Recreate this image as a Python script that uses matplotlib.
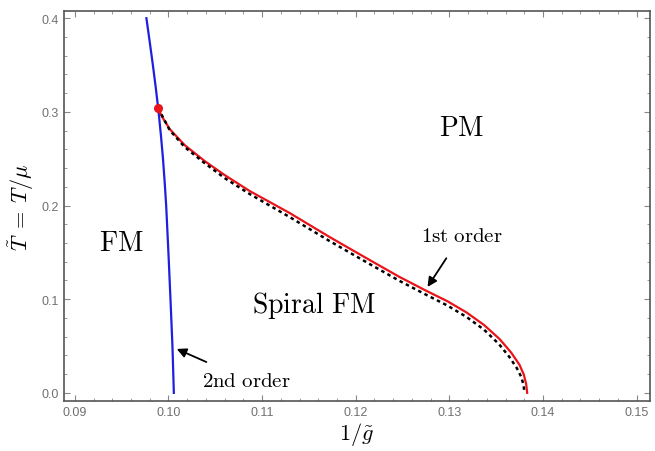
import numpy as np
import matplotlib
matplotlib.use("Agg")
import matplotlib.pyplot as plt

plt.rcParams["mathtext.fontset"] = "cm"

# second order line (blue)
blue_T = [0.40, 0.375, 0.35, 0.325, 0.30, 0.275, 0.25, 0.225, 0.20, 0.15, 0.10, 0.05, 0.0]
blue_x = [0.09765, 0.09800, 0.09834, 0.09866, 0.09895, 0.09920, 0.09942, 0.09960,
          0.09976, 0.10000, 0.10022, 0.10043, 0.10058]

# first order line (red)
red_x = [0.09891, 0.09928, 0.10014, 0.10174, 0.10387, 0.10601, 0.10868, 0.11295,
         0.11721, 0.12148, 0.12469, 0.12757, 0.12980, 0.13184, 0.13370, 0.13536,
         0.13660, 0.13749, 0.13795, 0.13820, 0.13831]
red_T = [0.3040, 0.2955, 0.2816, 0.2645, 0.2475, 0.2325, 0.2155, 0.1920,
         0.1664, 0.1419, 0.1237, 0.1088, 0.0978, 0.0858, 0.0725, 0.0575,
         0.0430, 0.0300, 0.0195, 0.0095, 0.0]

# dotted line (black)
dot_x = [0.09891, 0.09907, 0.10014, 0.10174, 0.10387, 0.10601, 0.10868, 0.11295,
         0.11721, 0.12148, 0.12469, 0.12757, 0.12980, 0.13184, 0.13370, 0.13530,
         0.13640, 0.13720, 0.13768, 0.13792, 0.13802]
dot_T = [0.3040, 0.3008, 0.2805, 0.2624, 0.2453, 0.2293, 0.2123, 0.1877,
         0.1621, 0.1376, 0.1195, 0.1045, 0.0932, 0.0810, 0.0675, 0.0520,
         0.0385, 0.0265, 0.0170, 0.0085, 0.0]

# tricritical point
tc_x, tc_T = 0.0989, 0.3043

fig = plt.figure(figsize=(6.55, 4.52), dpi=100)
ax = fig.add_axes([0.097, 0.111, 0.895, 0.862])

ax.plot(blue_x, blue_T, color="#1f1fe0", lw=1.6)
ax.plot(red_x, red_T, color="#e8141a", lw=1.6)
ax.plot(dot_x, dot_T, color="black", lw=1.8, ls=(0, (1.4, 1.4)))
ax.plot([tc_x], [tc_T], "o", color="#e8141a", ms=5.5)

ax.set_xlim(0.0888, 0.1514)
ax.set_ylim(-0.0085, 0.4075)
ax.set_xticks([0.09, 0.10, 0.11, 0.12, 0.13, 0.14, 0.15])
ax.set_yticks([0.0, 0.1, 0.2, 0.3, 0.4])
ax.set_xticklabels(["0.09", "0.10", "0.11", "0.12", "0.13", "0.14", "0.15"])
ax.set_yticklabels(["0.0", "0.1", "0.2", "0.3", "0.4"])
ax.set_xticks(np.arange(0.09, 0.151, 0.002), minor=True)
ax.set_yticks(np.arange(0.0, 0.41, 0.02), minor=True)
ax.tick_params(which="both", direction="in", top=True, right=True,
               colors="#888888", labelcolor="#707070", labelsize=9)
ax.tick_params(which="major", length=4, width=0.8)
ax.tick_params(which="minor", length=2, width=0.6)
for lab in ax.get_xticklabels() + ax.get_yticklabels():
    lab.set_fontfamily("Liberation Sans")
for s in ax.spines.values():
    s.set_color("#555555")
    s.set_linewidth(1.2)

ax.set_xlabel(r"$1/\tilde{g}$", fontsize=16, labelpad=2)
ax.set_ylabel(r"$\tilde{T}\;=\;T/\mu$", fontsize=16, labelpad=4)

ax.text(0.1313, 0.2837, r"$\mathrm{PM}$", fontsize=20, ha="center", va="center")
ax.text(0.0950, 0.1611, r"$\mathrm{FM}$", fontsize=20, ha="center", va="center")
ax.text(0.11551, 0.0939, r"$\mathrm{Spiral\ FM}$", fontsize=20, ha="center", va="center")

ax.annotate(r"$\mathrm{1st\ order}$", xy=(0.12767, 0.1131), xytext=(0.1313, 0.1685),
            fontsize=15, ha="center", va="center",
            arrowprops=dict(arrowstyle="-|>", color="black", lw=1.3,
                            mutation_scale=14, shrinkA=9, shrinkB=0))
ax.annotate(r"$\mathrm{2nd\ order}$", xy=(0.10089, 0.0469), xytext=(0.10836, 0.0139),
            fontsize=15, ha="center", va="center",
            arrowprops=dict(arrowstyle="-|>", color="black", lw=1.3,
                            mutation_scale=14, shrinkA=9, shrinkB=0))

fig.savefig("out.png", dpi=100)
